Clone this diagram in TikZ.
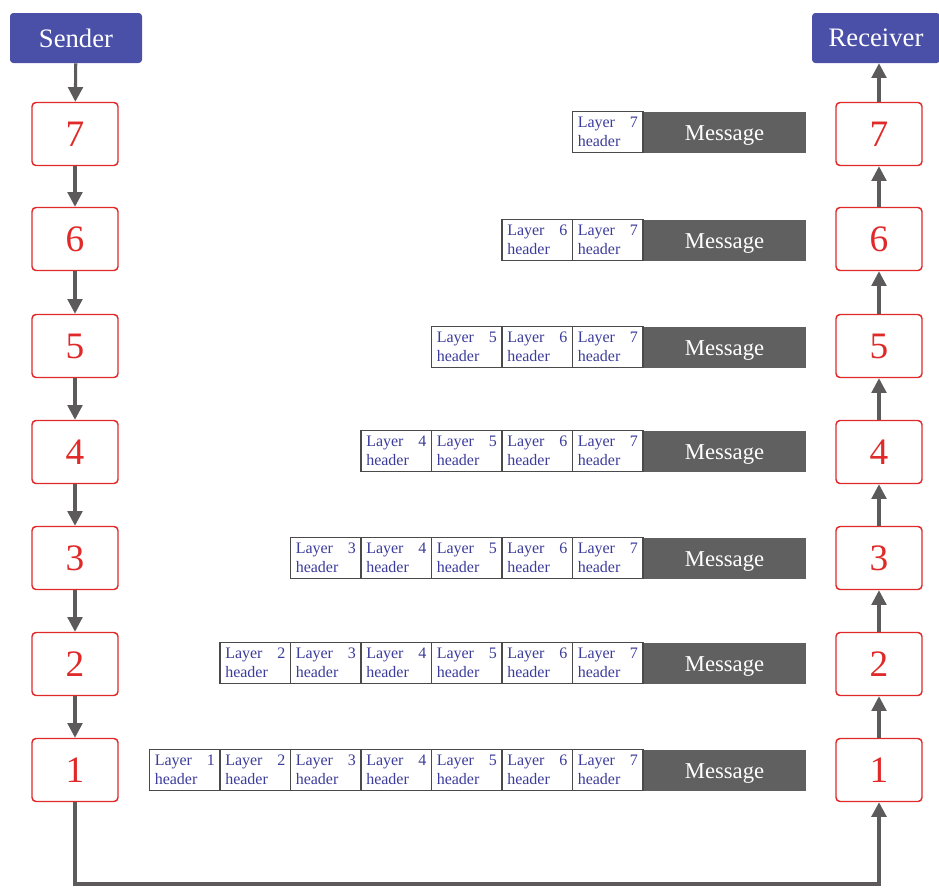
\documentclass[tikz,border=0pt]{standalone}
\usepackage{fontspec}
\setmainfont{Liberation Serif}
\usetikzlibrary{arrows.meta}
\definecolor{boxblue}{HTML}{4A4FA8}
\definecolor{layerred}{HTML}{E02A2A}
\definecolor{flowgray}{HTML}{5C5A5A}
\definecolor{msggray}{HTML}{606060}
\definecolor{hdrblue}{HTML}{3C3C9C}
\definecolor{hdredge}{HTML}{4A4A4A}
\begin{document}
\begin{tikzpicture}[x=0.75pt,y=-0.75pt,
  endpoint/.style={fill=boxblue, text=white, rounded corners=2.5pt, minimum height=37.5pt,
    inner sep=0pt, font=\fontsize{20}{24}\selectfont},
  layerbox/.style={draw=layerred, fill=white, line width=1.1pt, rounded corners=3pt,
    minimum width=64.5pt, minimum height=47.25pt, inner sep=0pt, text=layerred,
    font=\fontsize{28}{30}\selectfont},
  flow/.style={draw=flowgray, line width=2.3pt, -{Triangle[width=11pt,length=11pt]}},
  hdrcell/.style={draw=hdredge, fill=white, line width=0.9pt, minimum width=52.9pt,
    minimum height=30.75pt, inner sep=0pt, text=hdrblue, align=left, text width=45pt,
    font=\fontsize{12}{14}\selectfont},
  msgcell/.style={fill=msggray, minimum width=122.25pt, minimum height=30.75pt,
    inner sep=0pt, text=white, font=\fontsize{17}{20}\selectfont,
    text height=14.5pt, text depth=2pt},
]
\useasboundingbox (0,0) rectangle (939,889);

% end points
\node[endpoint, minimum width=99pt] (sender) at (76,38) {Sender};
\node[endpoint, minimum width=96pt] (receiver) at (876,38) {Receiver};

% protocol stacks on both sides
\foreach \n/\yy in {7/134,6/239,5/346,4/452,3/558,2/664,1/770}{
  \node[layerbox] (L\n) at (75,\yy) {\n};
  \node[layerbox] (R\n) at (879,\yy) {\n};
}

% downward flow on the sending side
\draw[flow] (sender) -- (L7);
\foreach \a/\b in {7/6,6/5,5/4,4/3,3/2,2/1}{
  \draw[flow] (L\a) -- (L\b);
}
% upward flow on the receiving side
\foreach \a/\b in {1/2,2/3,3/4,4/5,5/6,6/7}{
  \draw[flow] (R\a) -- (R\b);
}
\draw[flow] (R7.north) -- (R7.north |- receiver.south);

% physical link along the bottom
\coordinate (linkL) at (75,884);
\coordinate (linkR) at (879,884);
\draw[flow, line width=3pt] (L1.south) -- (linkL) -- (linkR) -- (R1.south);

% encapsulated messages, one row per layer
\foreach \r/\yy in {7/132,6/240,5/347,4/451,3/558,2/663,1/770}{
  \node[msgcell] (m\r) at (724.5,\yy) {Message};
  \foreach \i in {\r,...,7}{
    \node[hdrcell] (h\r\i) at ({643-(7-\i)*70.5-35.25},\yy) {Layer\hfill\i\\header};
  }
}
\end{tikzpicture}
\end{document}
